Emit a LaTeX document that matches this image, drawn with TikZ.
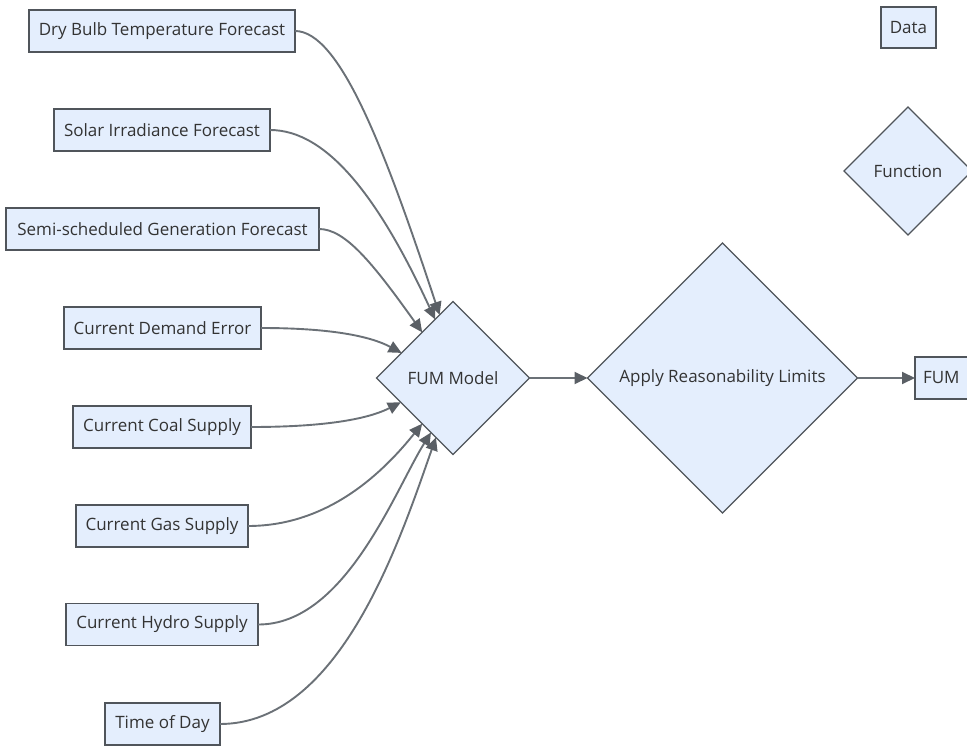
\documentclass[tikz,border=0pt]{standalone}
\usepackage{fontspec}
\setmainfont{Open Sans}
\usetikzlibrary{shapes.geometric,arrows.meta}
\definecolor{nodefill}{HTML}{E4EEFD}
\definecolor{nodeborder}{HTML}{50555B}
\definecolor{edgecol}{HTML}{6B7177}
\definecolor{tipcol}{HTML}{5A5F65}
\definecolor{txtcol}{HTML}{333333}
\tikzset{
  databox/.style={draw=nodeborder, fill=nodefill, line width=1.1pt, minimum height=42pt, inner sep=0pt, outer sep=0pt, text=txtcol, font=\fontsize{17}{20}\selectfont},
  funcbox/.style={shape=diamond, aspect=1, draw=nodeborder, fill=nodefill, line width=1.1pt, inner sep=0pt, outer sep=0pt, text=txtcol, font=\fontsize{17}{20}\selectfont},
  flow/.style={draw=edgecol, line width=1.9pt, -{Triangle[length=13pt,width=12pt,fill=tipcol,color=tipcol]}},
}
\begin{document}
\begin{tikzpicture}[x=1pt,y=-1pt]
\useasboundingbox (0,0) rectangle (967,746);
\clip (0,0) rectangle (967,746);
% input data boxes
\node[databox, minimum width=266pt] (dry) at (162,31) {Dry Bulb Temperature Forecast};
\node[databox, minimum width=216pt] (solar) at (162,130) {Solar Irradiance Forecast};
\node[databox, minimum width=313pt] (semi) at (162.5,229) {Semi-scheduled Generation Forecast};
\node[databox, minimum width=197pt] (demand) at (162.5,328) {Current Demand Error};
\node[databox, minimum width=178pt] (coal) at (162,427) {Current Coal Supply};
\node[databox, minimum width=172pt] (gas) at (162,526) {Current Gas Supply};
\node[databox, minimum width=192pt] (hydro) at (162,624.5) {Current Hydro Supply};
\node[databox, minimum width=115pt] (time) at (162.5,724) {Time of Day};
% functions
\node[funcbox, minimum width=153pt, minimum height=153pt] (fum) at (453,378) {FUM Model};
\node[funcbox, minimum width=270pt, minimum height=270pt] (limits) at (722.5,378) {Apply Reasonability Limits};
\node[databox, anchor=west, minimum width=80pt, text width=64pt, align=left, inner xsep=8pt] (out) at (915,378) {FUM};
% legend
\node[databox, minimum width=55pt, minimum height=41pt] (legdata) at (908.5,27.5) {Data};
\node[funcbox, minimum width=128pt, minimum height=128pt] (legfunc) at (908,171) {Function};
% connectors
\draw[flow] (dry.east) .. controls (340,31) and (385,150) .. (fum.102);
\draw[flow] (solar.east) .. controls (328,130) and (380,200) .. (fum.107);
\draw[flow] (semi.east) .. controls (345,229) and (372,262) .. (fum.124);
\draw[flow] (demand.east) .. controls (330,328) and (370,336) .. (fum.154);
\draw[flow] (coal.east) .. controls (330,427) and (370,418) .. (fum.205);
\draw[flow] (gas.east) .. controls (330,526) and (385,470) .. (fum.236);
\draw[flow] (hydro.east) .. controls (345,625) and (395,490) .. (fum.248);
\draw[flow] (time.east) .. controls (340,724) and (400,540) .. (fum.254);
\draw[flow] (fum.east) -- (limits.west);
\draw[flow] (limits.east) -- (out.west);
\end{tikzpicture}
\end{document}
